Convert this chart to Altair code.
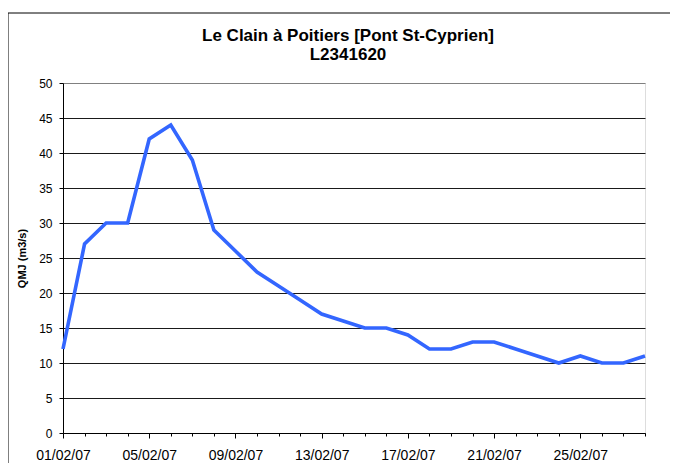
import altair as alt
import pandas as pd

days = list(range(1, 29))
qmj = [12, 27, 30, 30, 42, 44, 39, 29, 26, 23, 21, 19, 17, 16, 15, 15, 14,
       12, 12, 13, 13, 12, 11, 10, 11, 10, 10, 11]
y_ticks = [0, 5, 10, 15, 20, 25, 30, 35, 40, 45, 50]
title_lines = ["Le Clain à Poitiers [Pont St-Cyprien]", "L2341620"]
y_title = "QMJ (m3/s)"

dates = [f"2007-02-{d:02d}" for d in days]
df = pd.DataFrame({"date": dates, "qmj": qmj})

FONT = "Liberation Sans"
day_values = [alt.DateTime(year=2007, month=2, date=d, utc=True) for d in days]

x_enc = alt.X(
    "date:T",
    scale=alt.Scale(type="utc", domain=[dates[0], dates[-1]]),
    axis=alt.Axis(
        values=day_values,
        labelExpr="(utcdate(datum.value) - 1) % 4 == 0 ? utcFormat(datum.value, '%d/%m/%y') : ''",
        tickSize={"condition": {"test": "(utcdate(datum.value) - 1) % 4 == 0", "value": 5}, "value": 3},
        labelFont=FONT, labelFontSize=14, labelColor="black",
        labelPadding=10, labelOverlap=False, labelFlush=False,
        domainColor="black", tickColor="black", grid=False, title=None,
    ),
)

y_enc = alt.Y(
    "qmj:Q",
    scale=alt.Scale(domain=[0, 50], nice=False, zero=True),
    axis=alt.Axis(
        values=y_ticks, title=y_title,
        titleFont=FONT, titleFontSize=11, titleFontWeight="bold", titleColor="black",
        titlePadding=11,
        labelFont=FONT, labelFontSize=12, labelColor="black", labelPadding=7,
        tickSize=4, tickColor="black", domainColor="black",
        grid=True,
        gridColor={"condition": {"test": "datum.value == 50", "value": "#808080"}, "value": "#1a1a1a"},
        gridWidth=1,
    ),
)

line = alt.Chart(df).mark_line(color="#3366FF", strokeWidth=3.6, strokeJoin="miter").encode(
    x=x_enc, y=y_enc
)

one = alt.Data(values=[{}])
frame_left = alt.Chart(one).mark_rule(color="black", strokeWidth=1).encode(
    x=alt.value(-55), y=alt.value(-70), y2=alt.value(390)
)
frame_top = alt.Chart(one).mark_rule(color="black", strokeWidth=1).encode(
    x=alt.value(-55), x2=alt.value(607), y=alt.value(-70)
)

chart = alt.layer(frame_left, frame_top, line).properties(
    width=582, height=350,
    title=alt.TitleParams(
        text=title_lines, font=FONT, fontSize=17, fontWeight="bold", color="black",
        lineHeight=19, offset=-51, anchor="middle", dx=-6, frame="group",
    ),
    autosize=alt.AutoSizeParams(type="none"),
    padding={"left": 55, "top": 75, "right": 25, "bottom": 30},
).configure_view(stroke="#808080", strokeWidth=1).configure(background="white")

chart.save("out.html", embed_options={"renderer": "svg", "actions": False})
